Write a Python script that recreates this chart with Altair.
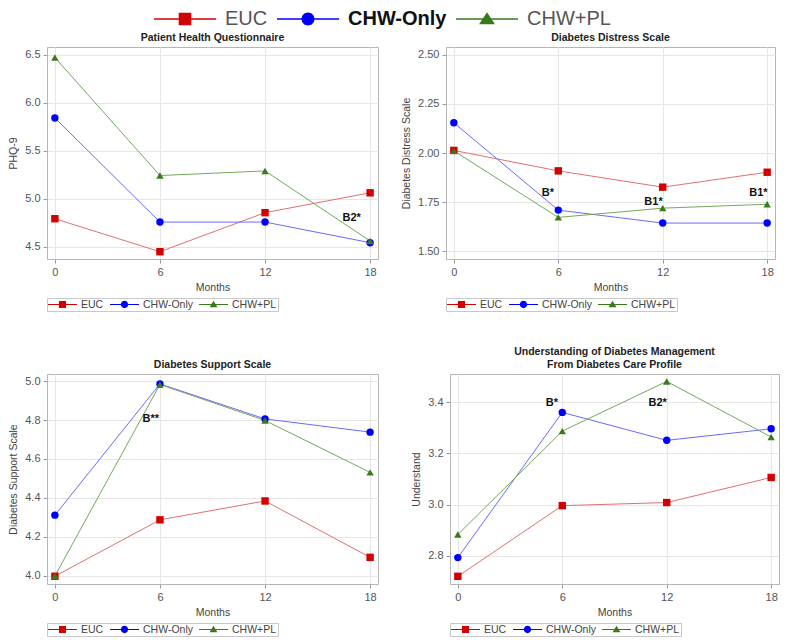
import altair as alt
import pandas as pd

FONT = "Liberation Sans"

months = [0, 6, 12, 18]
groups = ["EUC", "CHW-Only", "CHW+PL"]
marker_colors = ["#d40000", "#0000ff", "#3a7a1c"]
line_colors = ["#e07070", "#6a6aff", "#74a85c"]
marker_shapes = ["square", "circle", "triangle-up"]

# Patient Health Questionnaire (PHQ-9)
phq_euc = [4.79, 4.446, 4.853, 5.06]
phq_chw = [5.84, 4.755, 4.755, 4.54]
phq_pl = [6.47, 5.24, 5.288, 4.558]
phq_note_text = ["B2*"]
phq_note_month = [16.95]
phq_note_value = [4.795]

# Diabetes Distress Scale
dds_euc = [2.013, 1.909, 1.826, 1.902]
dds_chw = [2.154, 1.709, 1.643, 1.643]
dds_pl = [2.011, 1.672, 1.719, 1.739]
dds_note_text = ["B*", "B1*", "B1*"]
dds_note_month = [5.4, 11.47, 17.5]
dds_note_value = [1.796, 1.748, 1.796]

# Diabetes Support Scale
dss_euc = [3.997, 4.287, 4.384, 4.094]
dss_chw = [4.311, 4.986, 4.806, 4.738]
dss_pl = [3.998, 4.983, 4.798, 4.531]
dss_note_text = ["B**"]
dss_note_month = [5.48]
dss_note_value = [4.804]

# Understanding of Diabetes Management
und_euc = [2.72, 2.996, 3.008, 3.106]
und_chw = [2.793, 3.36, 3.251, 3.296]
und_pl = [2.883, 3.287, 3.481, 3.264]
und_note_text = ["B*", "B2*"]
und_note_month = [5.4, 11.48]
und_note_value = [3.397, 3.397]


def f(v):
    return f"{v:.3f}"


def seg(L, t):
    return f"M{f(-L)},{f(-t)}H{f(L)}V{f(t)}H{f(-L)}Z"


def sq(m):
    return f"M{f(-m)},{f(-m)}H{f(m)}V{f(m)}H{f(-m)}Z"


def circ(r):
    return f"M{f(-r)},0A{f(r)},{f(r)} 0 1,1 {f(r)},0A{f(r)},{f(r)} 0 1,1 {f(-r)},0Z"


def tri(w, top, bot):
    return f"M0,{f(top)}L{f(w)},{f(bot)}H{f(-w)}Z"


def symbol_expr(L, t, m, r, w, top, bot):
    p = [seg(L, t) + sq(m), seg(L, t) + circ(r), seg(L, t) + tri(w, top, bot)]
    return (f"datum.value === '{groups[0]}' ? '{p[0]}' : "
            f"datum.value === '{groups[1]}' ? '{p[1]}' : '{p[2]}'")


# small legend: unit = 5.5 px (symbolSize 121), symbol 29 px wide
small_expr = symbol_expr(2.636, 0.09, 0.64, 0.66, 0.72, -0.66, 0.52)
# big legend: unit = 10 px (symbolSize 400), symbol 62 px wide
big_expr = symbol_expr(3.1, 0.07, 0.63, 0.65, 0.8, -0.68, 0.52)

color_scale = alt.Scale(domain=groups, range=marker_colors)


def small_legend():
    return alt.Legend(
        title=None, orient="bottom", direction="horizontal",
        symbolType=alt.ExprRef(expr=small_expr), symbolSize=121, symbolStrokeWidth=0,
        symbolOffset=9,
        labelFont=FONT, labelFontSize=10.5, labelColor="#444444",
        labelOffset=13, columnPadding=6, padding=1, offset=5,
        strokeColor="#c8c8c8", labelLimit=0,
    )


def panel(title, ytitle, series, ydomain, yticks, yfmt, notes, width, height):
    df = pd.DataFrame({
        "month": months * 3,
        "group": [g for g in groups for _ in months],
        "value": series[0] + series[1] + series[2],
    })
    ndf = pd.DataFrame({"label": notes[0], "month": notes[1], "value": notes[2]})
    xenc = alt.X("month:Q",
                 scale=alt.Scale(domain=[-0.45, 18.45], nice=False, zero=False),
                 axis=alt.Axis(values=months, title="Months", format="d"))
    yenc = alt.Y("value:Q",
                 scale=alt.Scale(domain=ydomain, nice=False, zero=False),
                 axis=alt.Axis(values=yticks, format=yfmt, title=ytitle))
    base = alt.Chart(df)
    lines = base.mark_line(strokeWidth=1).encode(
        x=xenc, y=yenc,
        stroke=alt.Stroke("group:N", scale=alt.Scale(domain=groups, range=line_colors), legend=None),
    )
    pts = base.mark_point(filled=True, size=55, opacity=1).encode(
        x=xenc, y=yenc,
        color=alt.Color("group:N", scale=color_scale, legend=small_legend()),
        shape=alt.Shape("group:N", scale=alt.Scale(domain=groups, range=marker_shapes), legend=None),
    )
    txt = alt.Chart(ndf).mark_text(font=FONT, fontSize=11, fontWeight="bold", color="#111111").encode(
        x=xenc, y=yenc, text="label:N"
    )
    return alt.layer(lines, pts, txt).properties(
        title=alt.TitleParams(title), width=width, height=height
    )


p1 = panel("Patient Health Questionnaire", "PHQ-9", [phq_euc, phq_chw, phq_pl],
           [4.37, 6.58], [4.5, 5.0, 5.5, 6.0, 6.5], ".1f",
           (phq_note_text, phq_note_month, phq_note_value), 331, 212)
p2 = panel("Diabetes Distress Scale", "Diabetes Distress Scale", [dds_euc, dds_chw, dds_pl],
           [1.46, 2.54], [1.5, 1.75, 2.0, 2.25, 2.5], ".2f",
           (dds_note_text, dds_note_month, dds_note_value), 329, 212)
p3 = panel("Diabetes Support Scale", "Diabetes Support Scale", [dss_euc, dss_chw, dss_pl],
           [3.957, 5.037], [4.0, 4.2, 4.4, 4.6, 4.8, 5.0], ".1f",
           (dss_note_text, dss_note_month, dss_note_value), 331, 210)
p4 = panel(["Understanding of Diabetes Management", "From Diabetes Care Profile"], "Understand",
           [und_euc, und_chw, und_pl],
           [2.69, 3.51], [2.8, 3.0, 3.2, 3.4], ".1f",
           (und_note_text, und_note_month, und_note_value), 329, 210)

legend_df = pd.DataFrame({"group": groups})
top = alt.Chart(legend_df).mark_point(filled=True, size=0, opacity=1).encode(
    color=alt.Color("group:N", scale=color_scale, legend=alt.Legend(
        title=None, orient="none", legendX=107, legendY=0, offset=0, direction="horizontal",
        symbolType=alt.ExprRef(expr=big_expr), symbolSize=400, symbolStrokeWidth=0,
        symbolOffset=21,
        labelFont=FONT, labelFontSize=20,
        labelColor=alt.ExprRef(expr="datum.value === 'CHW-Only' ? '#111111' : '#555555'"),
        labelFontWeight=alt.ExprRef(expr="datum.value === 'CHW-Only' ? 'bold' : 'normal'"),
        labelOffset=30, columnPadding=9, padding=0, labelLimit=0,
    ))
).properties(width=700, height=20, view=alt.ViewBackground(stroke="transparent"))

row1 = alt.hconcat(p1, p2, spacing=22).resolve_legend(color="independent")
row2 = alt.hconcat(p3, p4, spacing=32).resolve_legend(color="independent")
grid = alt.vconcat(row1, row2, spacing=34).resolve_legend(color="independent")

chart = alt.vconcat(top, grid, spacing=2).resolve_legend(color="independent").properties(
    padding=0
).configure(font=FONT).configure_view(
    stroke="#b5b5b5", strokeWidth=1
).configure_axis(
    labelFont=FONT, labelFontSize=11, labelColor="#555555",
    titleFont=FONT, titleFontSize=10.5, titleFontWeight="normal", titleColor="#444444",
    tickColor="#9a9a9a", tickSize=4, labelPadding=3, domain=False,
    gridColor="#e6e6e6", gridWidth=1,
).configure_axisX(titlePadding=5).configure_axisY(titlePadding=6).configure_title(
    font=FONT, fontSize=10.5, fontWeight="bold", color="#222222", offset=4
)

chart.save("out.html", embed_options={"renderer": "svg", "actions": False})
